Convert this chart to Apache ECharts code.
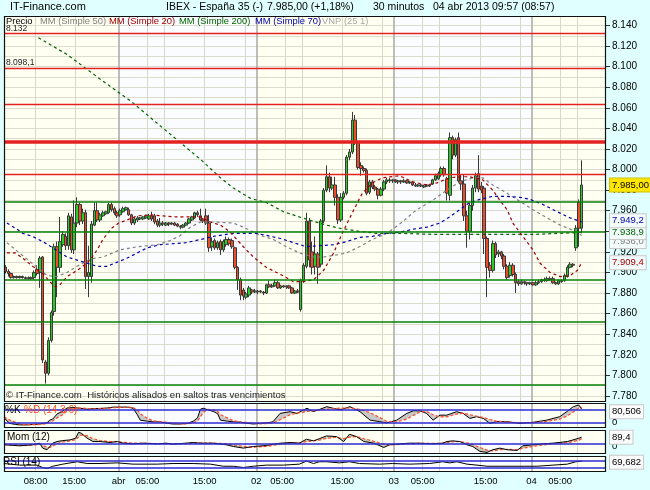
<!DOCTYPE html>
<html><head><meta charset="utf-8">
<script src="https://cdn.jsdelivr.net/npm/echarts@6/dist/echarts.min.js"></script>
<style>html,body{margin:0;padding:0;background:#e0ffff}#c{width:650px;height:490px}</style>
</head><body><div id="c"></div>
<script>
// ---------------- DATA ----------------
const slotCount = 210; // 30-minute slots on the time axis
const openP = [7905,7901,7899,7895,7896,7895,7896,7895,7894,7895, 7895,7903,7900,7915,7813,7802,7834,7862,7925,7905,
7927,7935,7926,7954,7922,7948,7966,7950,7958,7896, 7896,7946,7960,7951,7955,7957,7958,7966,7962,7958,
7956,7959,7961,7961,7956,7948,7951,7952,7952,7953, 7952,7955,7955,7950,7946,7948,7946,7948,7947,7948,
7947,7945,7944,7946,7948,7951,7953,7958,7955,7952, 7955,7948,7925,7931,7924,7930,7922,7927,7932,7931,
7924,7905,7893,7883,7876,7878,7883,7881,7882,7881, 7881,7880,7888,7886,7887,7890,7885,7887,7886,7887,
7885,7880,7882,7864,7892,7906,7950,7920,7906,7918, 7908,7950,7980,7993,7982,7985,7973,7951,7973,7977,
8012,8017,8048,8026,8004,8001,7999,7978,7988,7983, 7981,7975,7981,7988,7990,7989,7990,7988,7989,7988,
7989,7987,7988,7985,7984,7985,7983,7984,7985,7986, 7990,7991,7995,8001,7991,7975,8031,8014,8031,7989,
7986,7955,7940,7965,7982,7996,7984,7982,7933,7907, 7902,7928,7918,7920,7916,7906,7897,7907,7898,7891,
7889,7891,7890,7889,7890,7888,7890,7891,7893,7892, 7894,7894,7890,7889,7892,7892,7896,7905,7908,7924,
7968,7943];
const closeP = [7901,7899,7895,7896,7895,7896,7895,7894,7895,7894, 7900,7899,7914,7815,7802,7834,7861,7925,7905,7930,
7937,7926,7955,7922,7948,7966,7950,7958,7896,7900, 7947,7960,7951,7956,7958,7959,7966,7961,7958,7955,
7960,7962,7963,7956,7948,7952,7953,7953,7954,7955, 7955,7952,7949,7946,7948,7947,7948,7947,7948,7946,
7945,7944,7946,7948,7952,7954,7958,7956,7951,7950, 7948,7924,7930,7924,7929,7922,7930,7932,7928,7925,
7905,7893,7878,7877,7879,7885,7881,7882,7881,7882, 7880,7888,7886,7887,7890,7885,7887,7886,7887,7885,
7880,7882,7881,7892,7907,7950,7912,7905,7918,7905, 7950,7980,7993,7982,7985,7973,7951,7973,7977,8012,
8017,8048,8026,8002,8001,7999,7977,7988,7983,7981, 7975,7981,7988,7990,7989,7990,7988,7989,7988,7989,
7987,7988,7985,7984,7985,7984,7984,7985,7984,7990, 7994,7996,8001,7995,7977,8031,8014,8029,7989,7986,
7955,7940,7965,7982,7994,7981,7980,7933,7905,7902, 7928,7917,7920,7916,7906,7895,7907,7898,7890,7889,
7891,7890,7889,7890,7888,7890,7891,7893,7892,7894, 7893,7890,7889,7892,7891,7897,7905,7908,7907,7943,
7943,7985];
const lowP = [7899,7896,7894,7894,7894,7894,7894,7893,7893,7893, 7893,7897,7885,7812,7792,7800,7832,7858,7876,7900,
7925,7922,7922,7919,7918,7944,7946,7947,7884,7876, 7890,7945,7949,7949,7954,7956,7957,7959,7956,7953,
7954,7958,7960,7955,7946,7946,7949,7951,7951,7952, 7951,7950,7947,7944,7944,7945,7945,7945,7946,7945,
7944,7942,7943,7945,7947,7950,7952,7954,7950,7948, 7946,7920,7921,7922,7922,7917,7920,7925,7926,7923,
7903,7883,7873,7873,7874,7876,7879,7880,7879,7880, 7878,7879,7885,7885,7886,7884,7884,7885,7884,7884,
7879,7879,7880,7862,7890,7904,7905,7898,7898,7889, 7905,7948,7978,7978,7980,7965,7947,7949,7971,7975,
8009,8015,8024,8000,7994,7997,7975,7976,7981,7979, 7971,7974,7979,7986,7987,7987,7987,7986,7986,7987,
7986,7986,7984,7983,7983,7983,7982,7983,7983,7985, 7989,7990,7993,7993,7970,7970,8010,8012,7987,7980,
7950,7924,7932,7960,7978,7978,7977,7918,7876,7895, 7900,7914,7915,7913,7903,7893,7895,7896,7880,7887,
7888,7888,7887,7888,7887,7887,7889,7890,7891,7891, 7892,7889,7888,7888,7890,7891,7895,7904,7905,7921,
7925,7938];
const highP = [7907,7903,7900,7897,7897,7897,7897,7896,7896,7896, 7902,7907,7916,7916,7815,7837,7863,7928,7930,7954,
7940,7938,7958,7957,7970,7973,7968,7962,7961,7926, 7950,7968,7968,7958,7960,7960,7968,7968,7964,7960,
7962,7964,7964,7963,7957,7954,7955,7954,7955,7956, 7957,7959,7957,7952,7953,7950,7949,7949,7949,7949,
7948,7946,7947,7949,7953,7955,7959,7960,7962,7953, 7962,7956,7934,7933,7931,7932,7932,7935,7934,7933,
7925,7906,7895,7885,7881,7887,7884,7884,7883,7883, 7882,7889,7892,7889,7893,7892,7888,7888,7887,7888,
7886,7883,7884,7894,7909,7958,7953,7930,7935,7920, 7952,7982,8004,7997,7993,7993,7976,7977,7979,8014,
8020,8056,8053,8028,8007,8003,8001,7990,7990,7985, 7982,7983,7990,7992,7992,7991,7991,7990,7990,7991,
7990,7989,7989,7987,7986,7986,7985,7986,7986,7991, 7996,7998,8003,8003,7993,8036,8033,8031,8036,7995,
7995,7960,7968,7985,7997,8014,7988,7984,7935,7910, 7931,7930,7922,7921,7918,7908,7910,7909,7900,7893,
7893,7892,7891,7891,7891,7892,7893,7894,7895,7896, 7896,7896,7891,7893,7893,7899,7907,7910,7909,7946,
7971,8009];

// moving averages: [slot position, value]
const ma50 = [[1,7929],[4.5,7921],[8,7913],[12,7904],[15,7897],[18.5,7896],[22,7900],[25.5,7906],[30,7913],[34.5,7915],[40.5,7922],[46.5,7925],[53.5,7927],[58,7931],[61.5,7936],[65,7944],[68.5,7949],[73,7949],[80,7948],[83.5,7944],[89.5,7936],[94,7932],[98.5,7925],[103,7919],[108,7915],[111.5,7915],[116,7917],[119.5,7919],[124,7925],[128.5,7932],[133.5,7938],[138,7947],[144,7961],[149.5,7970],[154.5,7980],[159,7988],[163.5,7992],[167,7992],[170.5,7985],[175.5,7977],[180,7969],[184.5,7961],[189.5,7953],[194,7946],[198.5,7941],[201.5,7936]];
const ma20 = [[1,7919],[4,7919],[6.5,7914],[10,7906],[13.5,7899],[16,7891],[18,7886],[19.5,7888],[22,7896],[25.5,7902],[27.5,7906],[30,7912],[32.5,7922],[34.5,7932],[37.5,7943],[40,7948],[43,7951],[46.5,7955],[51,7956],[55.5,7955],[60,7954],[66,7954],[68.5,7954],[72,7949],[75.5,7946],[79,7939],[83.5,7925],[87,7915],[91.5,7905],[96.5,7898],[101,7891],[104.5,7891],[108,7893],[111.5,7902],[115,7919],[118,7938],[121.5,7958],[125,7977],[128.5,7987],[132,7992],[138,7994],[142.5,7988],[147.5,7985],[151,7987],[155.5,7992],[159,7993],[162.5,7993],[167,7990],[170.5,7980],[173,7970],[175.5,7961],[177.5,7948],[181,7935],[184.5,7922],[187,7909],[190.5,7900],[194,7896],[197.5,7897],[200,7902],[201.5,7909.4]];
const ma200 = [[12,8128],[21.9,8112],[33.5,8088],[44,8067],[56,8039],[68.5,8010],[75.5,7992],[80,7982],[86,7972],[91.5,7968],[97.5,7959],[103,7954],[106.5,7951],[112.5,7946],[117,7943],[124,7940],[130,7938],[138,7938],[150,7937],[163,7937],[185,7937],[201.5,7938.9]];
const ma70 = [[1,7948],[4,7943],[6.5,7938],[10,7935],[13.5,7930],[17,7924],[22,7915],[25.5,7912],[29,7909],[32.5,7906],[36,7906],[39.5,7910],[43,7914],[46.5,7919],[50,7924],[54.5,7927],[59,7928],[63.5,7929],[68.5,7932],[73,7935],[80,7938],[83.5,7938],[88,7938],[91.5,7936],[96.5,7933],[101,7929],[105.5,7925],[110,7926],[115,7927],[119.5,7930],[124,7934],[128.5,7935],[133.5,7938],[138,7939],[142.5,7942],[147.5,7944],[152,7948],[155.5,7954],[159,7961],[162.5,7968],[166,7971],[170.5,7974],[175.5,7974],[180,7973],[183.5,7971],[188,7966],[193,7959],[197.5,7953],[201.5,7949.2]];

// horizontal levels
const levelsRed = [8132, 8098.1, 8063, 7995];
const levelsRedThick = [8027];
const levelsGreen = [7969, 7940, 7893, 7852, 7791];
const labeledLevels = [8132, 8098.1];

// y axis tick labels (price)
const yLabelValues = [7780,7800,7820,7840,7860,7880,7900,7920,7940,7960,7980,8000,8020,8040,8060,8080,8100,8120,8140];

// x axis labels (slot positions) and texts
const xLabelPos = [11, 24.5, 40, 50, 70, 88, 97, 118, 136, 146, 168, 184, 194];
const xLabelText = ['08:00','15:00','abr','05:00','15:00','02','05:00','15:00','03','05:00','15:00','04','05:00'];
const hourLines = [11, 25, 50, 56, 70, 84, 98, 104, 118, 132, 146, 152, 166, 180, 194, 200];
const dayLines = [40, 88, 136, 184];
const dayBandStarts = [0, 40, 88, 136, 184];

// Stochastic %K / %D
const kPos = [0,2,4,5.5,8,10,12.5,15,16,17,18.5,20.5,22,24,26.5,29,31,33.5,36,38,40.5,43,45,46.5,47.5,50,52,54.5,57,59,61.5,64,66,67.5,68.5,69.5,71,73,74.5,75.5,78,80,82.5,85,87,89.5,91.5,93.8,96.3,99.8,102.2,105.7,107.8,110.2,112.6,117.2,120.7,124.2,127.7,131.1,133.5,137,140.5,142.8,145.1,147.4,149.7,152.1,154.4,157.9,160.2,162.5,164.9,167.2,169.5,171.9,175.3,180,184.6,189.3,193.9,196.3,198.6,200.5,201.5];
const kVal = [40,15,10,8,8,10,12,18,30,35,58,72,86,88,85,80,83,84,86,90,90,90,85,55,30,25,22,22,15,12,12,15,25,40,80,85,78,70,60,30,25,22,20,15,12,15,17,22,61,69,61,85,69,80,92,77,92,69,30,23,17,30,61,73,73,61,30,53,53,69,61,38,46,38,15,23,23,15,20,30,46,69,92,100,80.506];
const dVal = [45,30,20,12,9,9,10,14,20,27,40,55,72,82,86,84,82,83,84,87,89,90,88,76,60,38,27,23,20,16,13,13,17,26,45,65,80,78,70,55,40,27,22,19,16,13,14,17,32,55,62,70,72,78,80,85,86,80,64,42,24,22,35,52,68,70,55,45,45,58,62,55,48,42,33,25,21,18,18,24,35,48,68,86,90];

// Momentum (12)
const momPos = [0,5.5,10,12.5,13.5,15,16,17,18.5,20.5,23,25,26,27,29,31,33.5,37,39.5,41.5,45,48.5,53.5,56.5,59,63.5,66,68.5,73,77.5,80,83.5,87,91.5,94,96.5,100,103,105.5,108,110,112.5,116,118.5,120.5,123,125.5,129,132.5,134.5,138,141.5,145,149.5,153,154.5,156.5,159,161.5,163.5,166,168.5,170.5,173,175.5,179,181,184.5,188,191.5,196.5,198.5,200.5,201.5];
const momVal = [-13,-27,-13,9,-58,-80,-36,9,31,44,53,76,156,142,76,31,31,18,31,9,0,9,0,9,-4,9,18,9,9,-13,-36,-58,-36,-22,-4,9,18,9,62,40,70,107,98,31,129,98,31,9,-49,-13,0,9,9,0,9,31,40,31,-13,-36,-102,-116,-80,-58,-80,-89,-27,-13,0,9,31,53,76,89.4];
const momSig = [-10,-20,-18,-5,-20,-45,-50,-30,0,25,40,55,90,120,110,70,45,30,28,20,10,6,4,4,2,4,10,12,10,2,-15,-35,-45,-35,-20,-5,8,12,30,40,50,75,90,70,90,100,70,35,-5,-15,-8,2,6,5,5,15,28,32,15,-10,-50,-85,-95,-80,-75,-80,-60,-35,-15,0,15,30,50,65];

// RSI (14)
const rsiPos = [0,5.5,11.5,13.5,15,17,20.5,25.5,29,33.5,39.5,45,53.5,59,66,72,76.5,80,83.5,87,91.5,97.5,103,105.5,108,110,112.5,117,120.5,124,131,135.5,141.5,148.5,153,155.5,158,161.5,165,168.5,173,180,186,191.5,196.5,199.5,201.5];
const rsiVal = [55,45,45,30,24,38,51,66,55,55,59,51,51,55,55,51,38,38,30,38,45,45,51,70,55,66,66,59,66,55,51,55,51,55,66,59,66,51,45,38,38,38,38,45,51,66,69.682];

// ---------------- HELPERS ----------------
const FONT = '"Liberation Sans", Arial, sans-serif';
const fmtThousand = v => { const s = String(Math.round(v)); return s.length > 3 ? s.slice(0, -3) + '.' + s.slice(-3) : s; };
const fmtEs = (v, d) => { const p = v.toFixed(d).split('.'); return fmtThousand(+p[0]) + (d ? ',' + p[1] : ''); };
const pairs = (xs, ys) => xs.map((x, i) => [x, ys[i]]);
const categories = Array.from({length: slotCount}, (_, i) => 'slot' + i);
const candles = openP.map((o, i) => [o, closeP[i], lowP[i], highP[i]]);

const C_CREAM = '#fffff2', C_BLUE = '#fafcff';
function bgSeries(xi, yi) {
  const bands = dayBandStarts.map((s, i) => [
    {xAxis: s, itemStyle: {color: i % 2 ? C_BLUE : C_CREAM, opacity: 1}},
    {xAxis: i + 1 < dayBandStarts.length ? dayBandStarts[i + 1] : slotCount}
  ]);
  return {
    type: 'line', xAxisIndex: xi, yAxisIndex: yi, data: [], silent: true, animation: false,
    markArea: {silent: true, z: -1, animation: false, itemStyle: {opacity: 1}, data: bands},
    markLine: {silent: true, z: 1, animation: false, symbol: ['none', 'none'], label: {show: false},
      data: hourLines.map(v => ({xAxis: v, lineStyle: {color: '#d8d8c8', width: 1, type: 'solid'}}))
        .concat(dayLines.map(v => ({xAxis: v, lineStyle: {color: '#a8a8a4', width: 1.5, type: 'solid'}})))}
  };
}
function hLines(xi, yi, vals, color) {
  return {
    type: 'line', xAxisIndex: xi, yAxisIndex: yi, data: [], silent: true, animation: false,
    markLine: {silent: true, animation: false, symbol: ['none', 'none'], label: {show: false},
      data: vals.map(v => ({yAxis: v, lineStyle: {color, width: 1.5, type: 'solid'}}))}
  };
}
function valueBox(xi, yi, val, text, color, bg, border, dy) {
  return {
    type: 'line', xAxisIndex: xi, yAxisIndex: yi, data: [], silent: true, animation: false, clip: false,
    markLine: {silent: true, animation: false, symbol: ['none', 'none'],
      lineStyle: {color: 'rgba(0,0,0,0)', width: 0},
      data: [{yAxis: val, label: {show: true, position: 'end', distance: 4, formatter: text,
        color, fontFamily: FONT, fontSize: 9.5, backgroundColor: bg, borderColor: border || 'rgba(0,0,0,0)',
        borderWidth: border ? 1 : 0, padding: [2, 2, 1, 2], offset: [0, dy || 0]}}]}
  };
}
function maSeries(name, data, color) {
  return {type: 'line', name, xAxisIndex: 1, yAxisIndex: 0, data, showSymbol: false, silent: true,
    animation: false, lineStyle: {color, width: 1.2, type: [3, 3]}};
}
// shaded band between two read lines, drawn through the axes' coordinate conversion
function fillBetween(xi, yi, xs, a, b, fillColor) {
  return {
    type: 'custom', xAxisIndex: xi, yAxisIndex: yi, data: [[xs[0], a[0]]], silent: true, animation: false, clip: true,
    renderItem: (params, api) => {
      const pts = xs.map((x, i) => api.coord([x, a[i]]))
        .concat(xs.map((x, i) => api.coord([x, b[i]])).reverse());
      return {type: 'polygon', shape: {points: pts}, style: {fill: fillColor, stroke: null}};
    }
  };
}

// ---------------- LAYOUT ----------------
const L = 4, R = 44;
const grids = [
  {left: L, right: R, top: 16, height: 385},
  {left: L, right: R, top: 403, height: 24},
  {left: L, right: R, top: 430, height: 23},
  {left: L, right: R, top: 456, height: 15}
].map(g => Object.assign(g, {outerBoundsMode: 'none', containLabel: false}));

const hiddenVal = gi => ({type: 'value', gridIndex: gi, min: 0, max: slotCount, show: false});
const xAxes = [
  {type: 'category', gridIndex: 0, data: categories, boundaryGap: true, show: false},
  hiddenVal(0), hiddenVal(1), hiddenVal(2),
  {type: 'value', gridIndex: 3, min: 0, max: slotCount,
    axisLine: {show: false}, axisTick: {show: false}, splitLine: {show: false},
    axisLabel: {customValues: xLabelPos, formatter: v => xLabelText[xLabelPos.indexOf(v)] || '',
      color: '#000', fontFamily: FONT, fontSize: 9.5, margin: 5}}
];
const grid10 = [];
for (let v = 7780; v <= 8140; v += 10) grid10.push(v);
const Y_MIN = 7775.1, Y_MAX = 8149.2;
const yAxes = [
  {type: 'value', gridIndex: 0, min: Y_MIN, max: Y_MAX, position: 'right',
    axisLine: {show: false}, axisTick: {show: false, customValues: grid10},
    axisLabel: {show: false, customValues: grid10},
    splitLine: {show: true, lineStyle: {color: '#dcdccd', width: 1}}},
  {type: 'value', gridIndex: 0, min: Y_MIN, max: Y_MAX, position: 'right',
    axisLine: {show: false}, splitLine: {show: false},
    axisTick: {show: true, length: 4, customValues: yLabelValues, lineStyle: {color: '#333'}},
    axisLabel: {customValues: yLabelValues, formatter: v => fmtThousand(v), color: '#000',
      fontFamily: FONT, fontSize: 10, margin: 6}},
  {type: 'value', gridIndex: 1, min: -1.7, max: 109, show: false},
  {type: 'value', gridIndex: 2, min: -124, max: 187, show: false},
  {type: 'value', gridIndex: 3, min: 8.4, max: 101.7, show: false}
];

const series = [];
series.push(bgSeries(1, 0), bgSeries(2, 2), bgSeries(3, 3), bgSeries(4, 4));
series.push({
  type: 'candlestick', xAxisIndex: 0, yAxisIndex: 0, data: candles, barWidth: 3, silent: true, animation: false,
  itemStyle: {color: '#25d025', color0: '#f04c2c', borderColor: '#383838', borderColor0: '#383838', borderWidth: 1}
});
series.push(maSeries('MM50', ma50, '#808080'), maSeries('MM70', ma70, '#0000a8'),
  maSeries('MM200', ma200, '#006400'), maSeries('MM20', ma20, '#a00000'));
// level lines
series.push({
  type: 'line', xAxisIndex: 1, yAxisIndex: 0, data: [], silent: true, animation: false,
  markLine: {silent: true, animation: false, symbol: ['none', 'none'],
    data: levelsRed.map(v => ({yAxis: v, lineStyle: {color: '#e42222', width: 1.3, type: 'solid'},
        label: labeledLevels.includes(v) ? {show: true, position: 'insideStartTop', distance: [2, 1],
          formatter: fmtEs(v, Number.isInteger(v) ? 0 : 1), color: '#222', fontFamily: FONT, fontSize: 8.5} : {show: false}}))
      .concat(levelsRedThick.map(v => ({yAxis: v, lineStyle: {color: '#e42222', width: 3.5, type: 'solid'}, label: {show: false}})))
      .concat(levelsGreen.map(v => ({yAxis: v, lineStyle: {color: '#078207', width: 1.5, type: 'solid'}, label: {show: false}})))}
});
// right side value boxes (main)
const last = a => a[a.length - 1][1];
series.push(valueBox(1, 0, last(ma50), fmtEs(last(ma50), 1), '#808080', '#f4fbfb', '#c8c8c8', 6));
series.push(valueBox(1, 0, last(ma200), fmtEs(last(ma200), 1), '#006400', '#f4fbfb', '#c8c8c8'));
series.push(valueBox(1, 0, last(ma70), fmtEs(last(ma70), 1), '#0000a8', '#f4fbfb', '#c8c8c8', -1));
series.push(valueBox(1, 0, last(ma20), fmtEs(last(ma20), 1), '#a00000', '#f4fbfb', '#c8c8c8'));
series.push(valueBox(1, 0, closeP[closeP.length - 1], fmtEs(closeP[closeP.length - 1], 2), '#000', '#ffe600', '#d0c000'));

// %K %D panel
series.push(fillBetween(2, 2, kPos, kVal, dVal, '#c8c8c8'));
series.push({type: 'line', xAxisIndex: 2, yAxisIndex: 2, data: pairs(kPos, kVal), showSymbol: false, silent: true,
  animation: false, lineStyle: {color: '#000', width: 1}});
series.push({type: 'line', xAxisIndex: 2, yAxisIndex: 2, data: pairs(kPos, dVal), showSymbol: false, silent: true,
  animation: false, lineStyle: {color: '#ff4a20', width: 1.2, type: [3, 2]}});
series.push(hLines(2, 2, [80, 20], '#2b2bd6'));
series.push(valueBox(2, 2, kVal[kVal.length - 1], fmtEs(kVal[kVal.length - 1], 3), '#000', '#fbfbfb', '#c8c8c8', 2.5));
series.push(valueBox(2, 2, 0, '0', '#000', 'rgba(0,0,0,0)', null, -4));

// Momentum panel
series.push(fillBetween(3, 3, momPos, momVal, momSig, '#c4c8b8'));
series.push({type: 'line', xAxisIndex: 3, yAxisIndex: 3, data: pairs(momPos, momSig), showSymbol: false, silent: true,
  animation: false, lineStyle: {color: '#ff4a20', width: 1.2, type: [3, 2]}});
series.push({type: 'line', xAxisIndex: 3, yAxisIndex: 3, data: pairs(momPos, momVal), showSymbol: false, silent: true,
  animation: false, lineStyle: {color: '#000', width: 1}});
series.push(hLines(3, 3, [0], '#2b2bd6'));
series.push(valueBox(3, 3, 0, '0', '#000', 'rgba(0,0,0,0)', null, 3));
series.push(valueBox(3, 3, momVal[momVal.length - 1], fmtEs(momVal[momVal.length - 1], 1), '#000', '#fbfbfb', '#c8c8c8'));

// RSI panel
series.push({type: 'line', xAxisIndex: 4, yAxisIndex: 4, data: pairs(rsiPos, rsiVal), showSymbol: false, silent: true,
  animation: false, lineStyle: {color: '#000', width: 1}});
series.push(hLines(4, 4, [70, 30], '#2b2bd6'));
series.push(valueBox(4, 4, rsiVal[rsiVal.length - 1], fmtEs(rsiVal[rsiVal.length - 1], 3), '#000', '#fbfbfb', '#c8c8c8', 1));

// ---------------- TEXT & FRAMES ----------------
const txt = (x, y, text, fill, size) => ({type: 'text', x, y, z: 100, silent: true,
  style: {text, fill: fill || '#000', font: (size || 10) + 'px ' + FONT, verticalAlign: 'middle'}});
const frame = (y, h) => ({type: 'rect', z: 99, silent: true, shape: {x: 4.5, y: y + 0.5, width: 601, height: h},
  style: {fill: 'none', stroke: '#111', lineWidth: 1.2}});
const graphic = [
  frame(16, 385), frame(403, 24), frame(430, 23), frame(456, 15),
  txt(10, 7, 'IT-Finance.com', '#000', 11),
  txt(166, 7, 'IBEX - España 35 (-)', '#000', 10.5),
  txt(267, 7, '7.985,00 (+1,18%)', '#000', 10.5),
  txt(373, 7, '30 minutos', '#000', 10.5),
  txt(433, 7, '04 abr 2013 09:57 (08:57)', '#000', 10.5),
  txt(6, 21, 'Precio', '#000', 9.4),
  txt(40, 21, 'MM (Simple 50)', '#808080', 9.4),
  txt(109, 21, 'MM (Simple 20)', '#a00000', 9.4),
  txt(179, 21, 'MM (Simple 200)', '#006400', 9.4),
  txt(255, 21, 'MM (Simple 70)', '#0000a8', 9.4),
  txt(322, 21, 'VNP (25 1)', '#a8a8a8', 9.4),
  txt(6, 395, '© IT-Finance.com  Históricos alisados en saltos tras vencimientos', '#222', 9.6),
  txt(5, 410, '%K', '#000', 10),
  txt(24, 410, '%D (14 3 6)', '#ff4a20', 10),
  txt(7, 437, 'Mom (12)', '#000', 10),
  txt(3, 462, 'RSI (14)', '#000', 10)
];

const chart = echarts.init(document.getElementById('c'), null, {renderer: 'canvas'});
chart.setOption({
  backgroundColor: '#e0ffff',
  animation: false,
  textStyle: {fontFamily: FONT},
  grid: grids,
  xAxis: xAxes,
  yAxis: yAxes,
  series,
  graphic
});
</script></body></html>
